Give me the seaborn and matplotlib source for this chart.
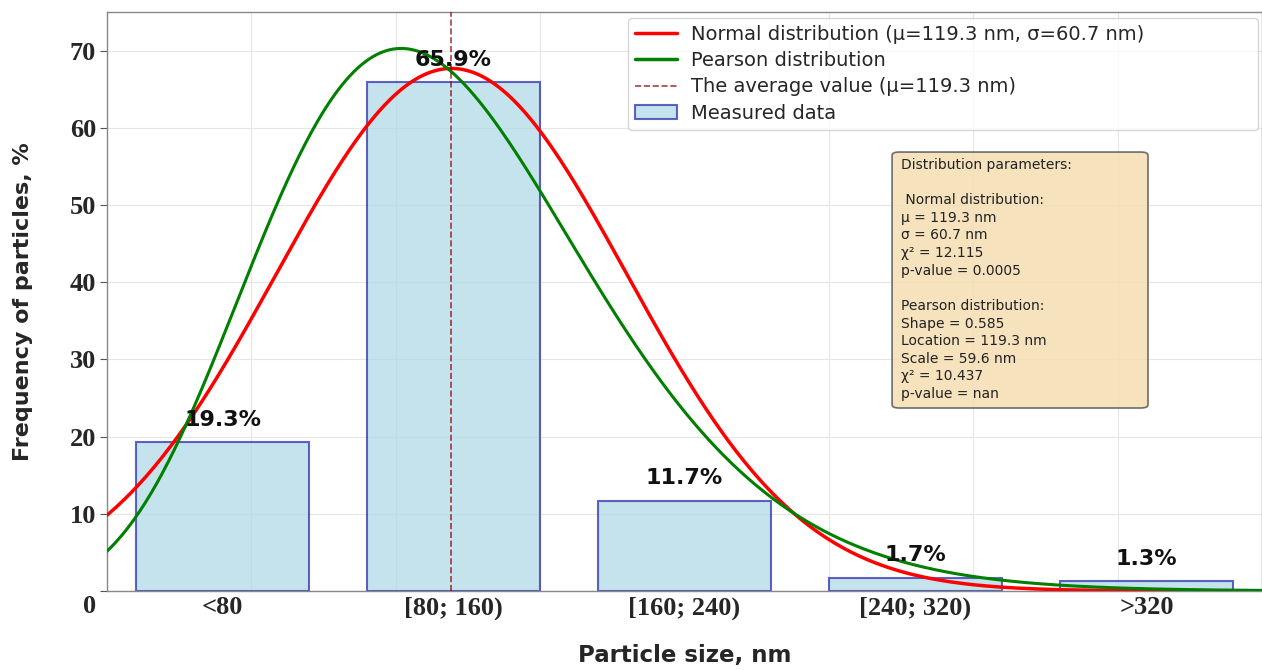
import math
import numpy as np
import pandas as pd
import matplotlib
matplotlib.use("Agg")
import matplotlib.pyplot as plt
from matplotlib.patches import Patch, FancyBboxPatch
from matplotlib.lines import Line2D
from matplotlib.transforms import ScaledTranslation
import seaborn as sns

# ---- data ----
categories = ["<80", "[80; 160)", "[160; 240)", "[240; 320)", ">320"]
bin_centers_nm = [40, 120, 200, 280, 360]
frequencies = [19.3, 65.9, 11.7, 1.7, 1.3]
mu_nm = 119.3
sigma_nm = 60.7
pearson_shape = 0.585
pearson_loc = 119.3
pearson_scale = 59.6
normal_curve_scale = 10300.0   # pdf -> % units
pearson_curve_scale = 10120.0  # pdf -> % units
params_text = ("Distribution parameters:\n\n Normal distribution:\n"
               "\u03bc = 119.3 nm\n\u03c3 = 60.7 nm\n\u03c7\u00b2 = 12.115\np-value = 0.0005\n\n"
               "Pearson distribution:\nShape = 0.585\nLocation = 119.3 nm\nScale = 59.6 nm\n"
               "\u03c7\u00b2 = 10.437\np-value = nan")

def normal_pdf(x, m, s):
    return np.exp(-0.5 * ((x - m) / s) ** 2) / (s * math.sqrt(2 * math.pi))

def pearson3_pdf(x, skew, loc, scale):
    beta = 2.0 / skew
    alpha = beta ** 2
    zeta = -alpha / beta
    z = (x - loc) / scale
    y = beta * (z - zeta)
    out = np.zeros_like(y)
    ok = y > 0
    out[ok] = np.exp(math.log(abs(beta)) - math.lgamma(alpha)
                     + (alpha - 1) * np.log(y[ok]) - y[ok])
    return out / scale

sns.set_style("white")
fig = plt.figure(figsize=(12.62, 6.70), dpi=100)
ax = fig.add_axes([0.0848, 0.118, 0.9152, 0.864])

df = pd.DataFrame({"center": bin_centers_nm, "freq": frequencies})
sns.barplot(data=df, x="center", y="freq", native_scale=True, width=0.75,
            color="lightblue", saturation=1, edgecolor="#2222aa", linewidth=1.5,
            alpha=0.7, ax=ax, zorder=2)

xs = np.linspace(0, 400, 600)
curves = pd.DataFrame({
    "x": xs,
    "normal": normal_pdf(xs, mu_nm, sigma_nm) * normal_curve_scale,
    "pearson": pearson3_pdf(xs, pearson_shape, pearson_loc, pearson_scale) * pearson_curve_scale,
})
sns.lineplot(data=curves, x="x", y="normal", color="red", linewidth=2.5, ax=ax, zorder=3)
sns.lineplot(data=curves, x="x", y="pearson", color="green", linewidth=2.2, ax=ax, zorder=3)
ax.axvline(mu_nm, color="darkred", linestyle="--", linewidth=1.2, alpha=0.75, zorder=4)

for c, v in zip(bin_centers_nm, frequencies):
    ax.text(c, v + 1.6, f"{v}%", ha="center", va="bottom", fontsize=16,
            fontweight="bold", color="#111111", zorder=5)

ax.set_xlim(0, 398)
ax.set_ylim(0, 75)
ax.set_xticks(bin_centers_nm)
ax.set_xticklabels(categories)
ax.set_xticks(np.arange(0, 401, 50), minor=True)
ax.set_yticks(np.arange(0, 71, 10))
ax.grid(False)
ax.grid(True, axis="x", which="minor", color="#e6e6e6", linewidth=0.8, zorder=0)
ax.grid(True, axis="y", which="major", color="#e6e6e6", linewidth=0.8, zorder=0)
ax.set_axisbelow(True)
for lab in ax.get_xticklabels() + ax.get_yticklabels():
    lab.set_fontfamily("Liberation Serif")
    lab.set_fontweight("bold")
    lab.set_fontsize(19)
ax.tick_params(axis="x", which="both", length=0, pad=4)
ax.tick_params(axis="y", which="major", length=5, color="#555555", left=True, pad=3)
# the "0" label sits slightly below the axis in the original
ylabs = ax.get_yticklabels()
ylabs[0].set_transform(ylabs[0].get_transform() + ScaledTranslation(0, -0.13, fig.dpi_scale_trans))
for s in ax.spines.values():
    s.set_color("#888888")
    s.set_linewidth(1.0)

ax.set_xlabel("Particle size, nm", fontsize=16.5, fontweight="bold", labelpad=17)
ax.set_ylabel("Frequency of particles, %", fontsize=16, fontweight="bold", labelpad=26)

handles = [
    Line2D([0], [0], color="red", linewidth=2.5),
    Line2D([0], [0], color="green", linewidth=2.5),
    Line2D([0], [0], color="darkred", linestyle="--", linewidth=1.2, alpha=0.75),
    Patch(facecolor="lightblue", edgecolor="#2222aa", linewidth=1.5, alpha=0.7),
]
labels = [
    "Normal distribution (\u03bc=119.3 nm, \u03c3=60.7 nm)",
    "Pearson distribution",
    "The average value (\u03bc=119.3 nm)",
    "Measured data",
]
ax.legend(handles, labels, loc="upper left", bbox_to_anchor=(0.451, 0.99, 0.5455, 0.0),
          mode="expand", borderaxespad=0,
          fontsize=14, frameon=True, fancybox=True, framealpha=0.8,
          edgecolor="#cccccc", borderpad=0.35, labelspacing=0.38, handlelength=2.2,
          handletextpad=0.7)

box = FancyBboxPatch((0.6797, 0.316), 0.2216, 0.4422, transform=ax.transAxes,
                     boxstyle="round,pad=0,rounding_size=0.006",
                     facecolor="wheat", alpha=0.85, edgecolor="#555555",
                     linewidth=1.2, zorder=6)
ax.add_patch(box)
ax.text(0.6875, 0.748, params_text, transform=ax.transAxes, fontsize=10,
        va="top", ha="left", linespacing=1.33, zorder=7, color="#222222")

fig.savefig("out.png", dpi=100)
